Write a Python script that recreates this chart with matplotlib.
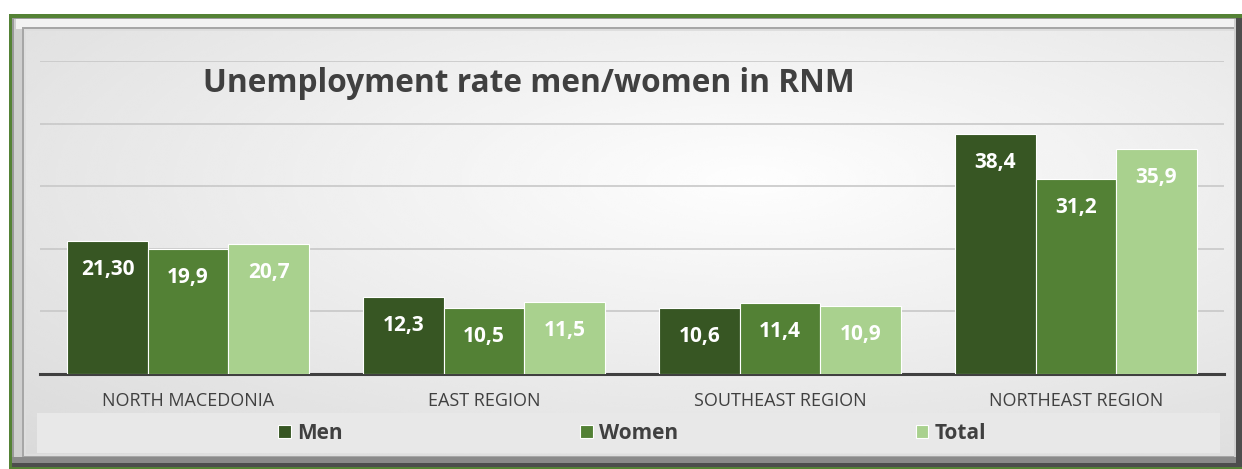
import numpy as np
import matplotlib.pyplot as plt
from matplotlib.patches import Rectangle

plt.rcParams["font.family"] = ["Open Sans", "DejaVu Sans"]

categories = ["NORTH MACEDONIA", "EAST REGION", "SOUTHEAST REGION", "NORTHEAST REGION"]
men = [21.30, 12.3, 10.6, 38.4]
women = [19.9, 10.5, 11.4, 31.2]
total = [20.7, 11.5, 10.9, 35.9]
men_labels = ["21,30", "12,3", "10,6", "38,4"]
women_labels = ["19,9", "10,5", "11,4", "31,2"]
total_labels = ["20,7", "11,5", "10,9", "35,9"]

c_men = "#375623"
c_women = "#538135"
c_total = "#a9d18e"
txt = "#404040"

W, H = 1242, 469
fig = plt.figure(figsize=(W / 100, H / 100), dpi=100)

# background frame, drawn in pixel coordinates
bg = fig.add_axes([0, 0, 1, 1], zorder=0)
bg.set_xlim(0, W)
bg.set_ylim(H, 0)
bg.axis("off")
frame = [
    ((9, 14), 1240, 460, "#548235"),
    ((12, 18), 1240, 449, "#4d4d4d"),
    ((12, 18), 1224, 445, "#9a9a9a"),
    ((14, 19), 1222, 438, "#cfcfcf"),
    ((16, 19), 1218, 10, "#f2f2f2"),
    ((22, 27), 1212, 430, "#a6a6a6"),
    ((24, 29), 1210, 427, "#dedede"),
]
for xy, fw, fh, col in frame:
    bg.add_patch(Rectangle(xy, fw, fh, facecolor=col, edgecolor="none"))
bg.add_patch(Rectangle((12, 457), 1224, 6, facecolor="#8a8a8a", edgecolor="none"))

yy, xx = np.mgrid[0:200, 0:500]
r = np.sqrt(((xx - 300) / 500.0) ** 2 + ((yy - 70) / 200.0) ** 2)
grad = np.clip(0.995 - 0.16 * r, 0.84, 1.0)
bg.imshow(grad, cmap="gray", vmin=0, vmax=1, extent=(26, 1234, 454, 31),
          aspect="auto", interpolation="bicubic", zorder=1)
bg.add_patch(Rectangle((37, 413), 1183, 40, facecolor="#e8e8e8",
                       edgecolor="none", zorder=2))

# main chart
ax = fig.add_axes([40 / W, 1 - 374 / H, 1184 / W, 313 / H], zorder=1)
ax.patch.set_alpha(0)

x = np.arange(len(categories))
w = 0.272
b1 = ax.bar(x - w, men, w, color=c_men, edgecolor="white", linewidth=0.8, label="Men", zorder=3)
b2 = ax.bar(x, women, w, color=c_women, edgecolor="white", linewidth=0.8, label="Women", zorder=3)
b3 = ax.bar(x + w, total, w, color=c_total, edgecolor="white", linewidth=0.8, label="Total", zorder=3)

for bars, labels in [(b1, men_labels), (b2, women_labels), (b3, total_labels)]:
    ax.bar_label(bars, labels=labels, padding=-28,
                 color="white", fontsize=15, fontweight="bold", zorder=4)

ax.set_xlim(-0.5, 3.5)
ax.set_ylim(0, 50)
ax.set_yticks([10, 20, 30, 40, 50])
ax.set_yticklabels([])
ax.tick_params(axis="y", length=0)
ax.yaxis.grid(True, color="#c8c8c8", linewidth=1.2)
ax.set_axisbelow(True)
ax.set_xticks(x)
ax.set_xticklabels(categories, fontsize=13, color=txt)
ax.tick_params(axis="x", length=0, pad=13)
for s in ["top", "right", "left"]:
    ax.spines[s].set_visible(False)
ax.spines["bottom"].set_color(txt)
ax.spines["bottom"].set_linewidth(2.2)

leg = ax.legend(ncol=3, loc="center", bbox_to_anchor=(0.5, -0.19), frameon=False,
                prop={"weight": "bold", "size": 15}, labelcolor=txt,
                handlelength=0.6, handleheight=0.6, handletextpad=0.3,
                columnspacing=11.4)

fig.text(529 / W, 1 - 83 / H, "Unemployment rate men/women in RNM",
         ha="center", va="center", fontsize=22.8, fontweight="bold", color=txt)

fig.savefig("out.png", dpi=100)
